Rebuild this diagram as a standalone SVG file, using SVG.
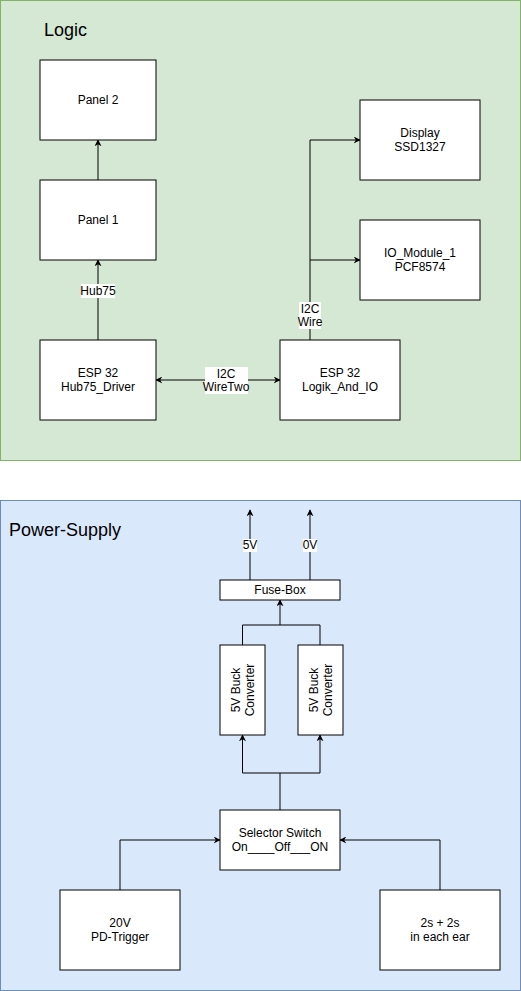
<svg xmlns="http://www.w3.org/2000/svg" width="521" height="991" viewBox="0 0 521 991">
<defs>
<marker id="ah" viewBox="0 0 10 10" refX="9" refY="5" markerWidth="7" markerHeight="7" orient="auto-start-reverse" markerUnits="userSpaceOnUse">
<path d="M0,0 L10,5 L0,10 L3,5 Z" fill="#000"/>
</marker>
<style>
.box{fill:#fff;stroke:#000;stroke-width:1}
.t{font-family:"Liberation Sans",Arial,sans-serif;font-size:12px;fill:#000;text-anchor:middle}
.title{font-family:"Liberation Sans",Arial,sans-serif;font-size:18px;fill:#000}
.e{fill:none;stroke:#000;stroke-width:1}
.lb{fill:#fff}
</style>
</defs>
<g id="logic-container">
<rect x="0.5" y="0.5" width="520" height="460" fill="#d5e8d4" stroke="#82b366"/>
<text class="title" x="44" y="36">Logic</text>
</g>
<g id="power-container">
<rect x="0.5" y="500.5" width="520" height="490" fill="#dae8fc" stroke="#6c8ebf"/>
<text class="title" x="9" y="536">Power-Supply</text>
</g>
<g id="connectors">
<path class="e" d="M98,340 V260" marker-end="url(#ah)"/>
<path class="e" d="M98,180 V140" marker-end="url(#ah)"/>
<path class="e" d="M156,380 H280" marker-start="url(#ah)" marker-end="url(#ah)"/>
<path class="e" d="M310,340 V140 H360" marker-end="url(#ah)"/>
<path class="e" d="M310,260 H360" marker-end="url(#ah)"/>
<path class="e" d="M250,580 V510" marker-end="url(#ah)"/>
<path class="e" d="M310,580 V510" marker-end="url(#ah)"/>
<path class="e" d="M242.5,645 V625 H280 V600" marker-end="url(#ah)"/>
<path class="e" d="M320,645 V625 H280"/>
<path class="e" d="M280,810 V773 H242.5 V735" marker-end="url(#ah)"/>
<path class="e" d="M280,773 H320 V735" marker-end="url(#ah)"/>
<path class="e" d="M120,890 V840 H220" marker-end="url(#ah)"/>
<path class="e" d="M440,890 V840 H340" marker-end="url(#ah)"/>
<rect class="lb" x="81" y="284" width="34" height="14"/>
<text class="t" x="98" y="295" font-size="11">Hub75</text>
<rect class="lb" x="205" y="367" width="43" height="27"/>
<text class="t" x="226" y="378" font-size="11">I2C</text>
<text class="t" x="226" y="391" font-size="11">WireTwo</text>
<rect class="lb" x="299" y="302" width="22" height="27"/>
<text class="t" x="310" y="313" font-size="11">I2C</text>
<text class="t" x="310" y="326" font-size="11">Wire</text>
<rect class="lb" x="243" y="539" width="14" height="13"/>
<text class="t" x="250" y="549" font-size="11">5V</text>
<rect class="lb" x="303" y="539" width="14" height="13"/>
<text class="t" x="310" y="549" font-size="11">0V</text>
</g>
<g id="panel2"><rect class="box" x="40" y="60" width="116" height="80"/><text class="t" x="98" y="104">Panel 2</text></g>
<g id="panel1"><rect class="box" x="40" y="180" width="116" height="80"/><text class="t" x="98" y="224">Panel 1</text></g>
<g id="esp-hub75"><rect class="box" x="40" y="340" width="116" height="80"/><text class="t" x="98" y="377">ESP 32</text><text class="t" x="98" y="391">Hub75_Driver</text></g>
<g id="esp-logik"><rect class="box" x="280" y="340" width="120" height="80"/><text class="t" x="340" y="377">ESP 32</text><text class="t" x="340" y="391">Logik_And_IO</text></g>
<g id="display"><rect class="box" x="360" y="100" width="120" height="80"/><text class="t" x="420" y="137">Display</text><text class="t" x="420" y="151">SSD1327</text></g>
<g id="io-module"><rect class="box" x="360" y="220" width="120" height="80"/><text class="t" x="420" y="257">IO_Module_1</text><text class="t" x="420" y="271">PCF8574</text></g>
<g id="fuse-box"><rect class="box" x="220" y="580" width="120" height="20"/><text class="t" x="280" y="594" font-size="11">Fuse-Box</text></g>
<g id="buck1"><rect class="box" x="220" y="645" width="45" height="90"/><text class="t" transform="translate(242.5,690) rotate(-90)" y="-3">5V Buck</text><text class="t" transform="translate(242.5,690) rotate(-90)" y="11">Converter</text></g>
<g id="buck2"><rect class="box" x="298" y="645" width="45" height="90"/><text class="t" transform="translate(320.5,690) rotate(-90)" y="-3">5V Buck</text><text class="t" transform="translate(320.5,690) rotate(-90)" y="11">Converter</text></g>
<g id="selector"><rect class="box" x="220" y="810" width="120" height="60"/><text class="t" x="280" y="837">Selector Switch</text><text class="t" x="280" y="851">On____Off___ON</text></g>
<g id="pd-trigger"><rect class="box" x="60" y="890" width="120" height="80"/><text class="t" x="120" y="927">20V</text><text class="t" x="120" y="941">PD-Trigger</text></g>
<g id="battery"><rect class="box" x="380" y="890" width="120" height="80"/><text class="t" x="440" y="927">2s + 2s</text><text class="t" x="440" y="941">in each ear</text></g>
</svg>
